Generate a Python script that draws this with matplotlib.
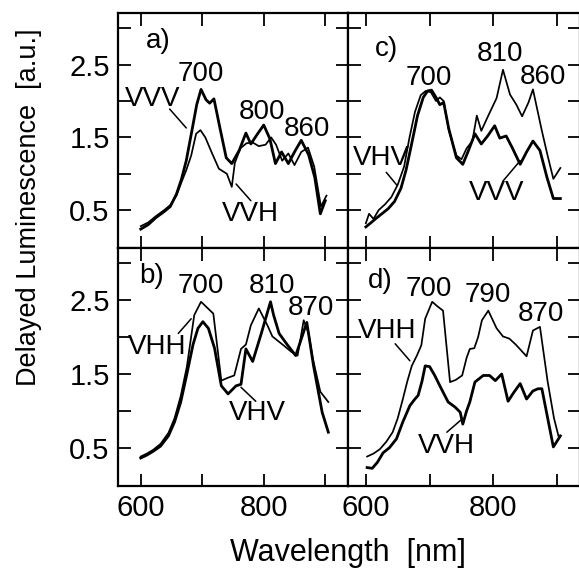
import matplotlib
matplotlib.use("Agg")
import matplotlib.pyplot as plt

plt.rcParams['font.family'] = ['Liberation Sans', 'DejaVu Sans']

# ---------------- data ----------------
# panel a
a_vvv_x = [600, 612, 625, 638, 648, 658, 666, 674, 684, 691, 698, 706, 712, 719, 729, 739, 748, 760, 771, 779, 790, 800, 810, 819, 829, 840, 850, 861, 873, 883, 892, 900]
a_vvv_y = [0.24, 0.30, 0.40, 0.48, 0.55, 0.72, 0.92, 1.18, 1.63, 1.95, 2.16, 2.02, 1.97, 2.03, 1.62, 1.22, 1.14, 1.32, 1.56, 1.41, 1.55, 1.67, 1.48, 1.14, 1.30, 1.14, 1.30, 1.46, 1.26, 0.95, 0.45, 0.63]
a_vvh_x = [600, 612, 625, 638, 648, 658, 666, 674, 682, 690, 697, 705, 715, 727, 740, 748, 753, 762, 772, 782, 792, 803, 812, 820, 830, 840, 850, 861, 872, 882, 893, 902]
a_vvh_y = [0.28, 0.33, 0.42, 0.50, 0.57, 0.70, 0.88, 1.05, 1.25, 1.55, 1.60, 1.50, 1.30, 1.07, 1.00, 0.82, 1.15, 1.35, 1.42, 1.43, 1.38, 1.40, 1.50, 1.40, 1.18, 1.28, 1.12, 1.30, 1.36, 1.10, 0.55, 0.70]

# panel b
b_vhh_x = [600, 610, 620, 632, 645, 655, 665, 675, 687, 698, 708, 718, 731, 742, 752, 763, 771, 779, 792, 806, 814, 823, 832, 845, 855, 865, 873, 880, 892, 905]
b_vhh_y = [0.38, 0.42, 0.47, 0.55, 0.70, 0.90, 1.20, 1.60, 2.30, 2.48, 2.40, 2.32, 1.41, 1.45, 1.48, 1.84, 1.90, 2.16, 2.39, 2.16, 2.01, 1.95, 1.89, 1.80, 1.75, 2.23, 2.05, 1.70, 1.26, 1.12]
b_vhv_x = [600, 610, 620, 632, 645, 655, 665, 675, 685, 693, 701, 710, 720, 731, 742, 755, 763, 771, 782, 796, 811, 816, 825, 838, 852, 862, 870, 881, 895, 905]
b_vhv_y = [0.36, 0.40, 0.45, 0.52, 0.66, 0.85, 1.12, 1.50, 1.90, 2.12, 2.21, 2.12, 1.85, 1.34, 1.23, 1.34, 1.36, 1.84, 1.67, 2.05, 2.48, 2.30, 2.05, 1.90, 1.75, 2.00, 2.20, 1.61, 0.98, 0.71]

# panel c
c_vvv_x = [600, 607, 615, 625, 635, 645, 655, 663, 672, 681, 690, 697, 703, 710, 716, 722, 730, 742, 752, 760, 771, 781, 791, 802, 810, 820, 830, 842, 852, 862, 873, 884, 894, 905]
c_vvv_y = [0.27, 0.32, 0.38, 0.45, 0.52, 0.62, 0.80, 1.05, 1.42, 1.80, 2.05, 2.14, 2.15, 2.05, 1.95, 1.98, 1.62, 1.22, 1.13, 1.30, 1.55, 1.41, 1.52, 1.66, 1.49, 1.52, 1.35, 1.13, 1.30, 1.45, 1.32, 0.95, 0.66, 0.66]
c_vhv_x = [600, 605, 612, 620, 630, 640, 650, 660, 668, 677, 686, 694, 702, 710, 716, 722, 730, 742, 750, 758, 767, 774, 781, 792, 805, 815, 826, 836, 845, 855, 862, 876, 885, 894, 905]
c_vhv_y = [0.32, 0.45, 0.38, 0.50, 0.58, 0.68, 0.85, 1.10, 1.48, 1.85, 2.08, 2.14, 2.12, 2.00, 2.05, 2.00, 1.60, 1.25, 1.20, 1.35, 1.45, 1.80, 1.59, 1.80, 2.04, 2.43, 2.09, 1.95, 1.79, 1.98, 2.16, 1.59, 1.25, 0.93, 1.08]

# panel d
d_vhh_x = [602, 612, 622, 632, 642, 650, 658, 665, 672, 680, 687, 693, 704, 712, 721, 732, 741, 751, 758, 763, 770, 776, 782, 792, 805, 815, 825, 835, 852, 862, 873, 885, 895, 902]
d_vhh_y = [0.38, 0.42, 0.48, 0.58, 0.71, 0.90, 1.16, 1.40, 1.61, 1.75, 1.89, 2.25, 2.48, 2.42, 2.36, 1.39, 1.42, 1.48, 1.72, 1.84, 1.85, 2.00, 2.23, 2.36, 2.12, 2.01, 1.98, 1.90, 1.74, 2.09, 2.14, 1.40, 0.90, 0.66]
d_vvh_x = [602, 610, 618, 627, 637, 648, 658, 669, 676, 682, 688, 693, 700, 708, 716, 729, 740, 748, 752, 758, 763, 771, 784, 794, 803, 813, 823, 832, 842, 852, 862, 870, 876, 894, 905]
d_vvh_y = [0.23, 0.22, 0.30, 0.43, 0.50, 0.62, 0.85, 1.07, 1.15, 1.21, 1.40, 1.61, 1.60, 1.48, 1.34, 1.12, 1.05, 0.98, 0.82, 1.00, 1.12, 1.39, 1.48, 1.48, 1.41, 1.50, 1.13, 1.25, 1.37, 1.16, 1.27, 1.30, 1.30, 0.51, 0.66]

x_ticks = [600, 700, 800, 900]
x_ticklabels = ['600', '', '800', '']
y_ticks = [0.5, 1.0, 1.5, 2.0, 2.5, 3.0]
y_ticklabels = ['0.5', '', '1.5', '', '2.5', '']

# ---------------- figure ----------------
W, H = 579, 573
fig = plt.figure(figsize=(W / 100, H / 100), dpi=100)

def box(x0, y0, x1, y1):
    return [x0 / W, 1 - y1 / H, (x1 - x0) / W, (y1 - y0) / H]

ax_a = fig.add_axes(box(118, 13, 348, 248))
ax_c = fig.add_axes(box(348, 13, 579.5, 248))
ax_b = fig.add_axes(box(118, 248, 348, 486))
ax_d = fig.add_axes(box(348, 248, 579.5, 486))

TH, TN = 2.0, 1.25
FS = 20

for ax in (ax_a, ax_b, ax_c, ax_d):
    ax.set_ylim(-0.02, 3.21)
    ax.set_xticks(x_ticks)
    ax.set_yticks(y_ticks)
    ax.tick_params(direction='in', length=9, width=1.3, top=True, right=True,
                   labelsize=21, pad=6)
    for s in ax.spines.values():
        s.set_linewidth(1.6)
for ax in (ax_a, ax_b):
    ax.set_xlim(563, 937)
for ax in (ax_c, ax_d):
    ax.set_xlim(572, 935)

for ax in (ax_a, ax_c):
    ax.set_xticklabels([])
for ax in (ax_b, ax_d):
    ax.set_xticklabels(x_ticklabels)
for ax in (ax_a, ax_b):
    ax.set_yticklabels(y_ticklabels)
for ax in (ax_c, ax_d):
    ax.set_yticklabels([])

def label(ax, txt, x, y):
    ax.text(x, y, txt, fontsize=FS, ha='center', va='center')

def leader(ax, start, end):
    ax.annotate('', xy=end, xytext=start,
                arrowprops=dict(arrowstyle='-', lw=1.1, color='black', shrinkA=0, shrinkB=0))

# panel a
ax_a.plot(a_vvv_x, a_vvv_y, color='black', lw=TH)
ax_a.plot(a_vvh_x, a_vvh_y, color='black', lw=TN)
label(ax_a, 'a)', 629, 2.82)
label(ax_a, '700', 697, 2.37)
label(ax_a, '800', 797, 1.85)
label(ax_a, '860', 871, 1.62)
label(ax_a, 'VVV', 619, 2.03)
leader(ax_a, (647, 1.89), (674, 1.63))
label(ax_a, 'VVH', 779, 0.45)
leader(ax_a, (779, 0.63), (755, 0.86))

# panel b
ax_b.plot(b_vhh_x, b_vhh_y, color='black', lw=TN)
ax_b.plot(b_vhv_x, b_vhv_y, color='black', lw=TH)
label(ax_b, 'b)', 618, 2.83)
label(ax_b, '700', 698, 2.69)
label(ax_b, '810', 813, 2.69)
label(ax_b, '870', 877, 2.39)
label(ax_b, 'VHH', 627, 1.87)
leader(ax_b, (661, 2.05), (682, 2.25))
label(ax_b, 'VHV', 789, 0.97)
leader(ax_b, (787, 1.13), (763, 1.32))

# panel c
ax_c.plot(c_vvv_x, c_vvv_y, color='black', lw=TH)
ax_c.plot(c_vhv_x, c_vhv_y, color='black', lw=TN)
label(ax_c, 'c)', 633, 2.71)
label(ax_c, '700', 698, 2.31)
label(ax_c, '810', 810, 2.64)
label(ax_c, '860', 878, 2.33)
label(ax_c, 'VHV', 625, 1.22)
leader(ax_c, (632, 1.02), (649, 0.84))
label(ax_c, 'VVV', 805, 0.73)
leader(ax_c, (815, 0.90), (842, 1.18))

# panel d
ax_d.plot(d_vhh_x, d_vhh_y, color='black', lw=TN)
ax_d.plot(d_vvh_x, d_vvh_y, color='black', lw=TH)
label(ax_d, 'd)', 622, 2.76)
label(ax_d, '700', 699, 2.66)
label(ax_d, '790', 791, 2.57)
label(ax_d, '870', 875, 2.32)
label(ax_d, 'VHH', 633, 2.08)
leader(ax_d, (646, 1.91), (669, 1.68))
label(ax_d, 'VVH', 727, 0.52)
leader(ax_d, (727, 0.71), (751, 0.89))

fig.text(29 / W, 1 - 207 / H, 'Delayed Luminescence  [a.u.]', rotation=90,
         fontsize=19.5, ha='center', va='center')
fig.text(348 / W, 1 - 553 / H, 'Wavelength  [nm]', fontsize=22,
         ha='center', va='center')

fig.savefig('out.png', dpi=100)
